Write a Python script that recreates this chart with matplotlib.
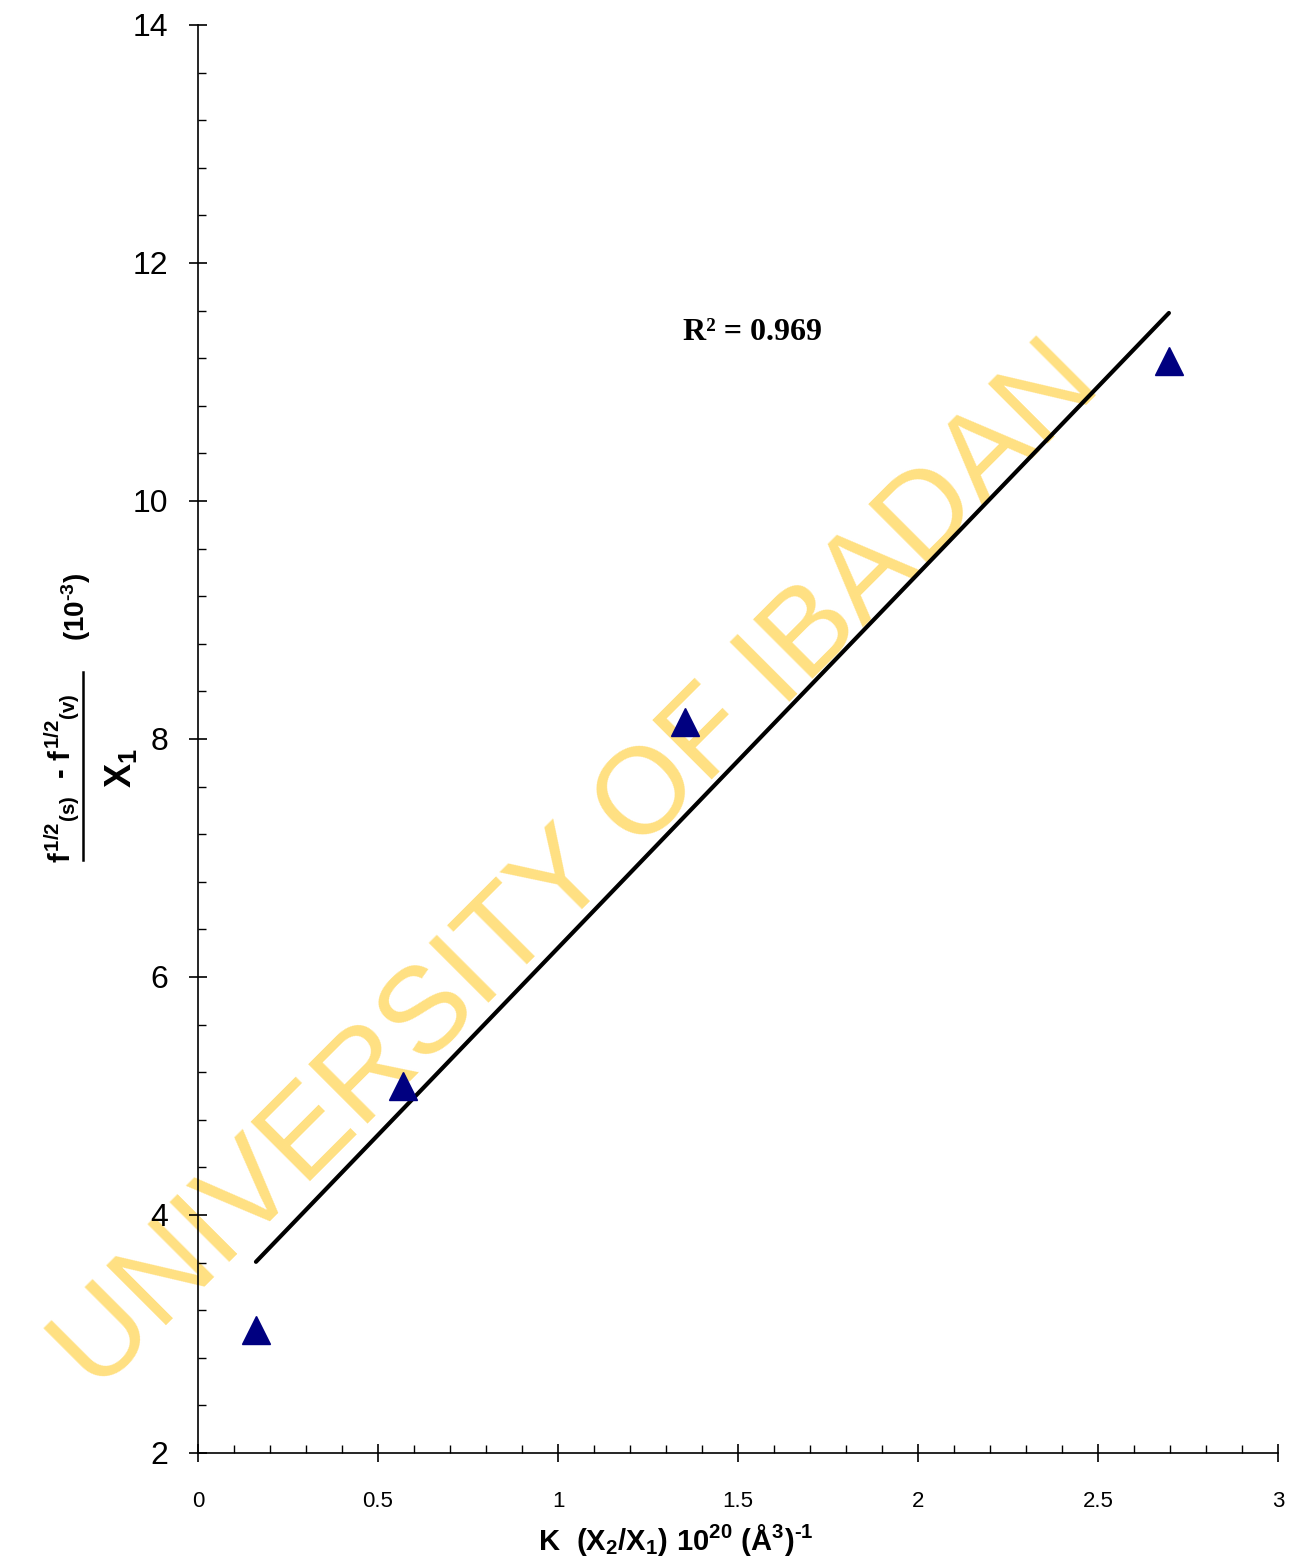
import numpy as np
import matplotlib
matplotlib.use("Agg")
import matplotlib.pyplot as plt
from matplotlib.ticker import MultipleLocator, FixedFormatter
from matplotlib.lines import Line2D
from matplotlib import font_manager

# data
k_x = [0.161, 0.569, 1.353, 2.697]
f_y = [3.03, 5.08, 8.14, 11.18]
r2_label = "R² = 0.969"
x_ticks = [0, 0.5, 1, 1.5, 2, 2.5, 3]
x_tick_labels = ["0", "0.5", "1", "1.5", "2", "2.5", "3"]
y_ticks = [2, 4, 6, 8, 10, 12, 14]
y_tick_labels = ["2", "4", "6", "8", "10", "12", "14"]
watermark = "UNIVERSITY OF IBADAN"

plt.rcParams['font.family'] = ['Liberation Sans', 'DejaVu Sans']
plt.rcParams['mathtext.fontset'] = 'custom'
plt.rcParams['mathtext.rm'] = 'Liberation Sans:bold'
plt.rcParams['mathtext.it'] = 'Liberation Sans:bold'
plt.rcParams['mathtext.bf'] = 'Liberation Sans:bold'

W, H = 1289, 1563
fig = plt.figure(figsize=(W / 100, H / 100), dpi=100)
ax = fig.add_axes([198 / W, 1 - 1453 / H, (1278 - 198) / W, (1453 - 25) / H])
ax.set_facecolor('none')

# watermark behind the axes; a narrow face if there is one
names = {f.name for f in font_manager.fontManager.ttflist}
if 'Liberation Sans Narrow' in names:
    wm_family, wm_size = 'Liberation Sans Narrow', 110
else:
    wm_family, wm_size = 'Liberation Sans', 88
fig.text(578 / W, 1 - 868 / H, watermark, rotation=45, rotation_mode='anchor',
         ha='center', va='center', fontsize=wm_size, family=wm_family,
         color='#FFE082', zorder=-1)

# trendline (linear fit) and points
coef = np.polyfit(k_x, f_y, 1)
xs = np.array([k_x[0], k_x[-1]])
ax.plot(xs, np.polyval(coef, xs), color='black', lw=3, solid_capstyle='round', zorder=3)
ax.plot(k_x, f_y, linestyle='none', marker='^', color='#000080', ms=20, zorder=4)

ax.text(1.539, 11.42, r2_label, ha='center', va='center', fontsize=23,
        fontweight='bold', family=['Liberation Serif', 'DejaVu Serif'])

ax.set_xlim(0, 3)
ax.set_ylim(2, 14)
ax.set_xticks(x_ticks)
ax.xaxis.set_major_formatter(FixedFormatter(x_tick_labels))
ax.set_yticks(y_ticks)
ax.yaxis.set_major_formatter(FixedFormatter(y_tick_labels))
ax.xaxis.set_minor_locator(MultipleLocator(0.1))
ax.yaxis.set_minor_locator(MultipleLocator(0.4))
ax.tick_params(which='major', direction='inout', length=13, width=1.2)
ax.tick_params(which='minor', direction='in', length=6, width=1)
ax.tick_params(axis='y', which='major', labelsize=23, pad=15)
ax.tick_params(axis='x', which='major', labelsize=16, pad=21)
for s in ['top', 'right']:
    ax.spines[s].set_visible(False)
for s in ['left', 'bottom']:
    ax.spines[s].set_linewidth(1.2)

# x label
fig.text(676 / W, 1 - 1550 / H,
         r"$\mathrm{K\ \ (X_2/X_1)\ 10^{20}\ (Å^3)^{\text{-}1}}$",
         ha='center', va='baseline', fontsize=21)

# y label drawn as a fraction
fig.text(62 / W, 1 - 778 / H, r"$f^{1/2}{}_{(s)}\ \ \text{-}\ f^{1/2}{}_{(v)}$",
         rotation=90, ha='center', va='center', fontsize=21)
fig.text(76 / W, 1 - 607 / H, r"(10$^{\text{-}3}$)", rotation=90, ha='center', va='center',
         fontsize=20, fontweight='bold')
fig.text(121 / W, 1 - 768 / H, r"$X_1$", rotation=90, ha='center', va='center',
         fontsize=26)
fig.add_artist(Line2D([83 / W, 83 / W], [1 - 672 / H, 1 - 860 / H],
                      transform=fig.transFigure, color='black', lw=1.8))

fig.savefig("out.png", dpi=100)
